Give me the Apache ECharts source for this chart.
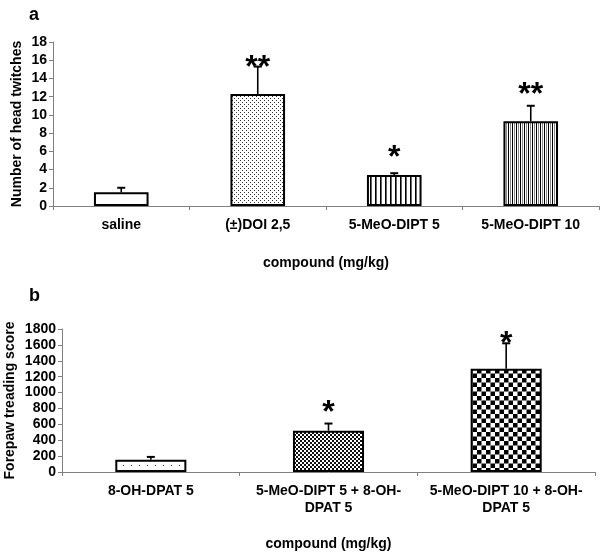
<!DOCTYPE html>
<html><head><meta charset="utf-8">
<script src="https://cdn.jsdelivr.net/npm/echarts@6/dist/echarts.min.js"></script>
<style>html,body{margin:0;padding:0;background:#fff}#c{width:600px;height:553px}</style>
</head><body><div id="c"></div>
<script>
// ---- data (panel a) ----
const headCategories = ['saline', '(\u00b1)DOI 2,5', '5-MeO-DIPT 5', '5-MeO-DIPT 10'];
const headValues = [1.5, 12.3, 3.4, 9.3];
const headErrTop = [2.0, 15.3, 3.6, 11.0];
const headSig = ['', '**', '*', '**'];
const headSigAt = [null, 15.8, 5.9, 12.8];
const headAxis = {min: 0, max: 18, interval: 2};
// ---- data (panel b) ----
const fpCategories = ['8-OH-DPAT 5', '5-MeO-DIPT 5 + 8-OH-\nDPAT 5', '5-MeO-DIPT 10 + 8-OH-\nDPAT 5'];
const fpValues = [155, 520, 1300];
const fpErrTop = [190, 610, 1620];
const fpSig = ['', '*', '*'];
const fpSigAt = [null, 810, 1690];
const fpAxis = {min: 0, max: 1800, interval: 200};

const FONT = '"Liberation Sans", Arial, Helvetica, sans-serif';

function pat(w, h, draw) {
  const c = document.createElement('canvas');
  c.width = w; c.height = h;
  const g = c.getContext('2d');
  g.fillStyle = '#fff'; g.fillRect(0, 0, w, h);
  draw(g);
  return {image: c, repeat: 'repeat'};
}
const fillWhite = '#ffffff';
const fillDots = pat(4, 4, g => { g.fillStyle = '#333'; g.fillRect(0, 0, 1, 1); g.fillRect(2, 2, 1, 1); });
const fillStripes = pat(5, 4, g => { g.fillStyle = '#000'; g.fillRect(0, 0, 1.6, 4); });
const fillDenseStripes = pat(4, 4, g => { g.fillStyle = '#000'; g.fillRect(0, 0, 1, 4); g.fillStyle = '#888'; g.fillRect(2, 0, 1, 4); });
const fillSparseDots = pat(8, 6, g => { g.fillStyle = '#333'; g.fillRect(3, 3, 1, 1); });
const fillDenseDots = pat(4, 4, g => { g.fillStyle = '#111'; g.fillRect(0, 0, 2, 2); g.fillRect(2, 2, 2, 2); });
const fillChecker = pat(9, 9, g => { g.fillStyle = '#000'; g.fillRect(0, 0, 4.5, 4.5); g.fillRect(4.5, 4.5, 4.5, 4.5); });

const headFills = [fillWhite, fillDots, fillStripes, fillDenseStripes];
const fpFills = [fillSparseDots, fillDenseDots, fillChecker];

function errRender(params, api) {
  const x = api.value(0), lo = api.value(1), hi = api.value(2);
  const p0 = api.coord([x, lo]), p1 = api.coord([x, hi]);
  return {type: 'group', children: [
    {type: 'line', shape: {x1: p0[0], y1: p0[1], x2: p1[0], y2: p1[1]}, style: {stroke: '#000', lineWidth: 1.6}},
    {type: 'line', shape: {x1: p1[0] - 4, y1: p1[1], x2: p1[0] + 4, y2: p1[1]}, style: {stroke: '#000', lineWidth: 2}}
  ]};
}
function sigRender(sig) {
  return function (params, api) {
    const s = sig[params.dataIndex];
    if (!s) return null;
    const p = api.coord([api.value(0), api.value(1)]);
    return {type: 'text', x: p[0], y: p[1] + 6, style: {text: s, font: 'bold 32px ' + FONT, fill: '#000', align: 'center', verticalAlign: 'middle'}};
  };
}

const axisLineStyle = {show: true, lineStyle: {color: '#808080', width: 1}};
const tickLabel = {color: '#000', fontWeight: 'bold', fontSize: 14, fontFamily: FONT};
const nameStyle = {color: '#000', fontWeight: 'bold', fontSize: 14, fontFamily: FONT};

const chart = echarts.init(document.getElementById('c'));
chart.setOption({
  animation: false,
  backgroundColor: '#fff',
  title: [
    {text: 'a', left: 24, top: 1, textStyle: {fontSize: 18, fontWeight: 'bold', fontFamily: FONT, color: '#000'}},
    {text: 'b', left: 24, top: 282, textStyle: {fontSize: 18, fontWeight: 'bold', fontFamily: FONT, color: '#000'}}
  ],
  grid: [
    {left: 53, right: 1, top: 42, height: 164, containLabel: false, outerBoundsMode: 'none'},
    {left: 62, right: 5, top: 329, height: 143, containLabel: false, outerBoundsMode: 'none'}
  ],
  xAxis: [
    {gridIndex: 0, type: 'category', data: headCategories, axisLine: axisLineStyle,
     axisTick: {show: true, length: 4, lineStyle: {color: '#808080'}}, axisLabel: Object.assign({margin: 12, interval: 0}, tickLabel),
     name: 'compound (mg/kg)', nameLocation: 'middle', nameGap: 50, nameMoveOverlap: false, nameTextStyle: nameStyle},
    {gridIndex: 1, type: 'category', data: fpCategories, axisLine: axisLineStyle,
     axisTick: {show: true, length: 4, lineStyle: {color: '#808080'}}, axisLabel: Object.assign({margin: 11, lineHeight: 17, interval: 0}, tickLabel),
     name: 'compound (mg/kg)', nameLocation: 'middle', nameGap: 65, nameMoveOverlap: false, nameTextStyle: nameStyle}
  ],
  yAxis: [
    {gridIndex: 0, type: 'value', min: headAxis.min, max: headAxis.max, interval: headAxis.interval,
     axisLine: axisLineStyle, axisTick: {show: true, length: 4, lineStyle: {color: '#808080'}}, splitLine: {show: false},
     axisLabel: Object.assign({margin: 6, formatter: v => String(v)}, tickLabel),
     name: 'Number of head twitches', nameLocation: 'middle', nameGap: 29, nameMoveOverlap: false, nameTextStyle: nameStyle},
    {gridIndex: 1, type: 'value', min: fpAxis.min, max: fpAxis.max, interval: fpAxis.interval,
     axisLine: axisLineStyle, axisTick: {show: true, length: 4, lineStyle: {color: '#808080'}}, splitLine: {show: false},
     axisLabel: Object.assign({margin: 6, formatter: v => String(v)}, tickLabel),
     name: 'Forepaw treading score', nameLocation: 'middle', nameGap: 45, nameMoveOverlap: false, nameTextStyle: nameStyle}
  ],
  series: [
    {type: 'bar', xAxisIndex: 0, yAxisIndex: 0, barWidth: '40%', z: 3,
     data: headValues.map((v, i) => ({value: v, itemStyle: {color: headFills[i], borderColor: '#000', borderWidth: 2}}))},
    {type: 'custom', xAxisIndex: 0, yAxisIndex: 0, z: 2, renderItem: errRender,
     data: headValues.map((v, i) => [i, v, headErrTop[i]])},
    {type: 'custom', xAxisIndex: 0, yAxisIndex: 0, z: 4, renderItem: sigRender(headSig),
     data: headSigAt.map((v, i) => [i, v == null ? 0 : v])},
    {type: 'bar', xAxisIndex: 1, yAxisIndex: 1, barWidth: '40%', z: 3,
     data: fpValues.map((v, i) => ({value: v, itemStyle: {color: fpFills[i], borderColor: '#000', borderWidth: 2}}))},
    {type: 'custom', xAxisIndex: 1, yAxisIndex: 1, z: 2, renderItem: errRender,
     data: fpValues.map((v, i) => [i, v, fpErrTop[i]])},
    {type: 'custom', xAxisIndex: 1, yAxisIndex: 1, z: 4, renderItem: sigRender(fpSig),
     data: fpSigAt.map((v, i) => [i, v == null ? 0 : v])}
  ]
});
</script></body></html>
